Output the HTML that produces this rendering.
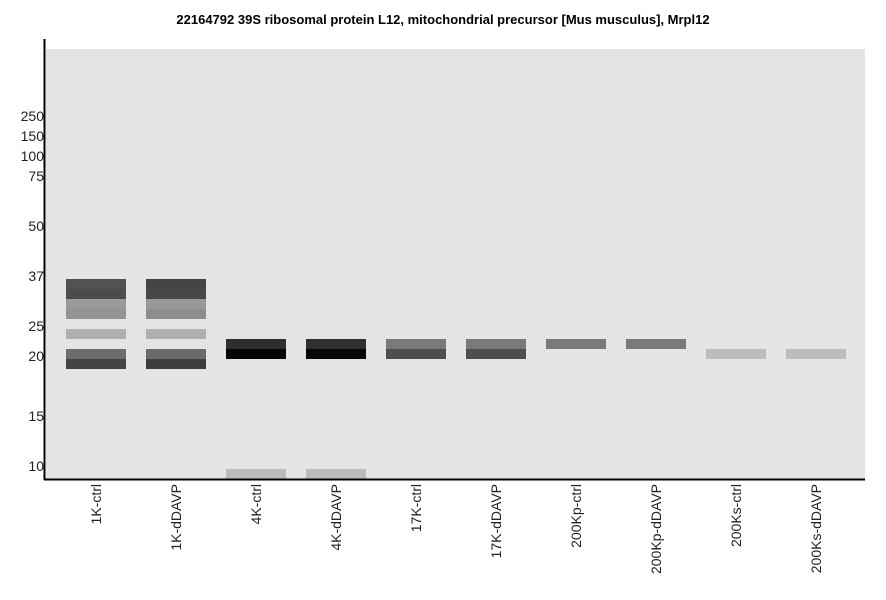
<!DOCTYPE html>
<html><head><meta charset="utf-8"><style>
body{margin:0;background:#fff;font-family:"Liberation Sans",sans-serif}
</style></head><body>
<svg id="c" width="886" height="595" xmlns="http://www.w3.org/2000/svg"></svg>
<script>
const lanes=["1K-ctrl","1K-dDAVP","4K-ctrl","4K-dDAVP","17K-ctrl","17K-dDAVP","200Kp-ctrl","200Kp-dDAVP","200Ks-ctrl","200Ks-dDAVP"];
const markerLabels=["250","150","100","75","50","37","25","20","15","10"];
const markerPos=[6.7,8.7,10.7,12.7,17.7,22.7,27.7,30.7,36.7,41.7];
// bands: lane index, migration slot, gray level
const bandLane=[0,0,0,0,0,0,0, 1,1,1,1,1,1,1, 2,2,2, 3,3,3, 4,4, 5,5, 6,7, 8,9];
const bandSlot=[23,24,25,26,28,30,31, 23,24,25,26,28,30,31, 29,30,42, 29,30,42, 29,30, 29,30, 29,29, 30,30];
const bandGray=[82,76,154,147,176,108,68, 68,72,153,142,176,106,60, 46,5,189, 48,8,189, 122,78, 122,78, 122,122, 188,188];
const S='http://www.w3.org/2000/svg';
const svg=document.getElementById('c');
function mk(t,a,p){const e=document.createElementNS(S,t);for(const k in a)e.setAttribute(k,a[k]);(p||svg).appendChild(e);return e;}
const x0=46,y0=49;
const xLane=i=>66+i*80;
const ySlot=s=>y0+s*10;
let t=mk('text',{x:443,y:24,'text-anchor':'middle','font-size':13,'font-weight':'bold'});
t.textContent="22164792 39S ribosomal protein L12, mitochondrial precursor [Mus musculus], Mrpl12";


let bg=mk('rect',{x:x0,y:y0,width:819,height:430,fill:'#e4e4e4'});


for(let i=0;i<bandLane.length;i++){
  const g=bandGray[i];
  const r=mk('rect',{x:xLane(bandLane[i]),y:ySlot(bandSlot[i]),width:60,height:10,fill:`rgb(${g},${g},${g})`});
  
  
}
let ya=mk('line',{x1:44.5,y1:39,x2:44.5,y2:480,stroke:'#000','stroke-width':2});


let xa=mk('line',{x1:44,y1:479.5,x2:865,y2:479.5,stroke:'#000','stroke-width':2});


markerLabels.forEach((l,i)=>{
  const e=mk('text',{x:44,y:ySlot(markerPos[i])+5,'text-anchor':'end','font-size':14,fill:'#222'});
  e.textContent=l;
  
  
});
lanes.forEach((l,i)=>{
  const cx=xLane(i)+30+5;
  const e=mk('text',{x:cx,y:484,'text-anchor':'end','font-size':14,fill:'#222',transform:`rotate(-90 ${cx} 484)`});
  e.textContent=l;
  
  
});
</script>
</body></html>
